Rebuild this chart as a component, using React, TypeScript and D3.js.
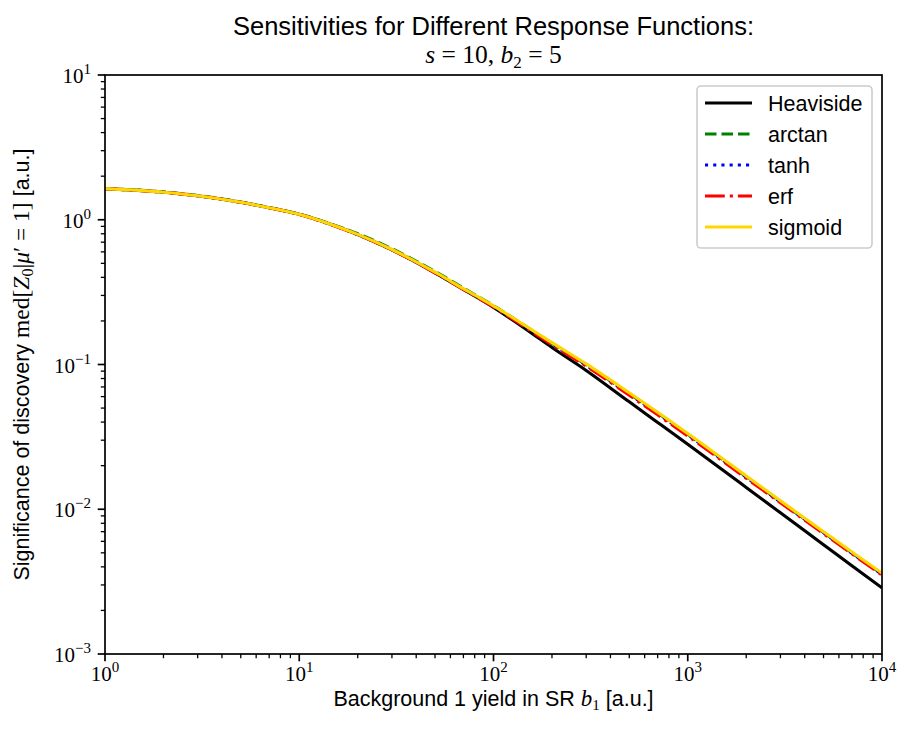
import React, { useEffect } from "react";
import * as d3 from "d3";

const bValues = [1, 2, 3, 5, 7, 10, 15, 20, 30, 50, 70, 100, 150, 200, 300, 500, 700, 1000, 2000, 3000, 5000, 7000, 10000];

const heaviside = [1.64, 1.55, 1.465, 1.32, 1.21, 1.09, 0.915, 0.79, 0.62, 0.43, 0.33, 0.248, 0.172, 0.131, 0.091, 0.0552, 0.0398, 0.0281, 0.01415, 0.00945, 0.00569, 0.00407, 0.00286];
const arctan = [1.645, 1.555, 1.47, 1.325, 1.215, 1.095, 0.922, 0.8, 0.63, 0.439, 0.337, 0.255, 0.18, 0.14, 0.0995, 0.0628, 0.0462, 0.033, 0.01675, 0.01127, 0.0069, 0.00499, 0.00357];
const tanh = [1.64, 1.55, 1.465, 1.32, 1.21, 1.089, 0.913, 0.79, 0.62, 0.432, 0.332, 0.252, 0.1785, 0.139, 0.0988, 0.0625, 0.0458, 0.0327, 0.01665, 0.01122, 0.00688, 0.00497, 0.00355];
const erf = [1.64, 1.55, 1.465, 1.32, 1.21, 1.088, 0.912, 0.788, 0.618, 0.43, 0.33, 0.25, 0.1765, 0.1372, 0.0975, 0.0613, 0.0449, 0.0321, 0.01639, 0.01109, 0.00679, 0.00492, 0.00351];
const sigmoid = [1.64, 1.55, 1.465, 1.32, 1.21, 1.09, 0.915, 0.792, 0.623, 0.434, 0.334, 0.254, 0.181, 0.1415, 0.101, 0.0638, 0.0468, 0.0334, 0.01698, 0.01143, 0.007, 0.00507, 0.00362];

const seriesNames = ["Heaviside", "arctan", "tanh", "erf", "sigmoid"];
const seriesValues = [heaviside, arctan, tanh, erf, sigmoid];
const seriesColors = ["#000000", "#008000", "#0000ff", "#ff0000", "#ffd700"];
const seriesDashes = ["", "11.5,5", "3.1,5.1", "19.8,5,3.1,5", ""];

const xMajorExps = [0, 1, 2, 3, 4];
const yMajorExps = [-3, -2, -1, 0, 1];

const W = 913;
const H = 735;
const L = 105;
const R = 882;
const T = 75;
const B = 654;

const SANS = "'Liberation Sans', Arial, Helvetica, sans-serif";
const SERIF = "'Liberation Serif', 'Times New Roman', serif";

function expLabel(e: number) {
  return e < 0 ? "\u2212" + Math.abs(e) : String(e);
}

export default function App() {
  useEffect(() => {
    document.body.style.margin = "0";
  }, []);

  const x = d3.scaleLog().domain([1, 1e4]).range([L, R]);
  const y = d3.scaleLog().domain([1e-3, 10]).range([B, T]);

  const line = d3
    .line<[number, number]>()
    .x((d) => x(d[0]))
    .y((d) => y(d[1]))
    .curve(d3.curveMonotoneX);

  const xMinor: number[] = [];
  for (let e = 0; e < 4; e++) for (let m = 2; m <= 9; m++) xMinor.push(m * Math.pow(10, e));
  const yMinor: number[] = [];
  for (let e = -3; e < 1; e++) for (let m = 2; m <= 9; m++) yMinor.push(m * Math.pow(10, e));

  const legendX = 697;
  const legendY = 86;
  const rowH = 31;

  return (
    <svg width={W} height={H} style={{ position: "absolute", left: 0, top: 0, background: "#fff" }}>
      <defs>
        <clipPath id="plotclip">
          <rect x={L} y={T} width={R - L} height={B - T} />
        </clipPath>
      </defs>
      <rect x={0} y={0} width={W} height={H} fill="#fff" />

      {/* title */}
      <text x={(L + R) / 2} y={34.5} textAnchor="middle" fontFamily={SANS} fontSize={25.5}>
        Sensitivities for Different Response Functions:
      </text>
      <text x={(L + R) / 2} y={62.5} textAnchor="middle" fontFamily={SERIF} fontSize={25.5}>
        <tspan fontStyle="italic">s</tspan>
        <tspan> = 10, </tspan>
        <tspan fontStyle="italic">b</tspan>
        <tspan fontSize={17} dy={5}>2</tspan>
        <tspan dy={-5}> = 5</tspan>
      </text>

      {/* curves */}
      <g clipPath="url(#plotclip)">
        {seriesValues.map((vals, i) => (
          <path
            key={seriesNames[i]}
            d={line(bValues.map((b, j) => [b, vals[j]] as [number, number])) || ""}
            fill="none"
            stroke={seriesColors[i]}
            strokeWidth={3.1}
            strokeDasharray={seriesDashes[i] || undefined}
            strokeLinejoin="round"
          />
        ))}
      </g>

      {/* spines */}
      <rect x={L} y={T} width={R - L} height={B - T} fill="none" stroke="#000" strokeWidth={1.7} />

      {/* x ticks */}
      {xMajorExps.map((e) => {
        const px = x(Math.pow(10, e));
        return (
          <g key={"xm" + e}>
            <line x1={px} x2={px} y1={B} y2={B + 7.3} stroke="#000" strokeWidth={1.7} />
            <text x={px} y={681} textAnchor="middle" fontFamily={SERIF} fontSize={21}>
              <tspan>10</tspan>
              <tspan fontSize={15} dy={-9}>{expLabel(e)}</tspan>
            </text>
          </g>
        );
      })}
      {xMinor.map((v, i) => (
        <line key={"xn" + i} x1={x(v)} x2={x(v)} y1={B} y2={B + 4.2} stroke="#000" strokeWidth={1.3} />
      ))}

      {/* y ticks */}
      {yMajorExps.map((e) => {
        const py = y(Math.pow(10, e));
        return (
          <g key={"ym" + e}>
            <line x1={L - 7.3} x2={L} y1={py} y2={py} stroke="#000" strokeWidth={1.7} />
            <text x={91} y={py + 8} textAnchor="end" fontFamily={SERIF} fontSize={21}>
              <tspan>10</tspan>
              <tspan fontSize={15} dy={-9}>{expLabel(e)}</tspan>
            </text>
          </g>
        );
      })}
      {yMinor.map((v, i) => (
        <line key={"yn" + i} x1={L - 4.2} x2={L} y1={y(v)} y2={y(v)} stroke="#000" strokeWidth={1.3} />
      ))}

      {/* x label */}
      <text x={(L + R) / 2} y={706} textAnchor="middle" fontFamily={SANS} fontSize={21.5}>
        <tspan>Background 1 yield in SR </tspan>
        <tspan fontFamily={SERIF} fontStyle="italic" fontSize={23}>b</tspan>
        <tspan fontFamily={SERIF} fontSize={15} dy={4}>1</tspan>
        <tspan dy={-4}> [a.u.]</tspan>
      </text>

      {/* y label */}
      <text
        transform={`translate(29, ${(T + B) / 2}) rotate(-90)`}
        textAnchor="middle"
        fontFamily={SANS}
        fontSize={21.5}
      >
        <tspan>Significance of discovery </tspan>
        <tspan fontFamily={SERIF} fontSize={23.5}>med[</tspan>
        <tspan fontFamily={SERIF} fontStyle="italic" fontSize={23.5}>Z</tspan>
        <tspan fontFamily={SERIF} fontSize={16} dy={4}>0</tspan>
        <tspan fontFamily={SERIF} fontSize={23.5} dy={-4}>|</tspan>
        <tspan fontFamily={SERIF} fontStyle="italic" fontSize={23.5}>μ</tspan>
        <tspan fontFamily={SERIF} fontSize={23.5}>{"\u2032 = 1]"}</tspan>
        <tspan> [a.u.]</tspan>
      </text>

      {/* legend */}
      <rect
        x={legendX}
        y={legendY}
        width={175}
        height={162}
        rx={4}
        ry={4}
        fill="#fff"
        fillOpacity={0.8}
        stroke="#cccccc"
        strokeWidth={1.6}
      />
      {seriesNames.map((name, i) => {
        const ry = 103 + i * rowH;
        return (
          <g key={"lg" + name}>
            <line
              x1={705}
              x2={752}
              y1={ry}
              y2={ry}
              stroke={seriesColors[i]}
              strokeWidth={3.1}
              strokeDasharray={seriesDashes[i] || undefined}
            />
            <text x={768} y={ry + 7.5} fontFamily={SANS} fontSize={21.5}>
              {name}
            </text>
          </g>
        );
      })}
    </svg>
  );
}
